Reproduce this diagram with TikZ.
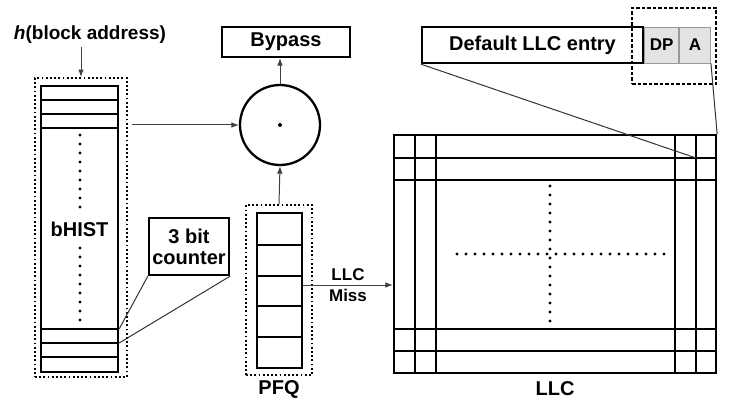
\documentclass[tikz,border=0pt]{standalone}
\usepackage{fontspec}
\setmainfont{Liberation Sans}
\usetikzlibrary{arrows.meta,positioning}

\begin{document}
\begin{tikzpicture}[x=1pt, y=-1pt, >=Latex,
        font=\fontsize{20}{21}\selectfont\bfseries,
        box/.style={draw, line width=2.3pt, inner sep=0pt},
        dotbox/.style={draw, line width=1.9pt, dash pattern=on 1.8pt off 2.4pt,
        inner sep=0pt},
        dashbox/.style={draw, line width=1.7pt, dash pattern=on 3.5pt off 2pt,
        inner sep=0pt},
        cell/.style={draw=gray!80, fill=gray!22, line width=0.9pt, inner sep=0pt,
        minimum height=36pt, font=\fontsize{17}{18}\selectfont\bfseries},
        rowline/.style={line width=2.1pt},
        thin/.style={line width=1pt, black!80},
        arrow/.style={->, line width=1pt, black!75},
        dots/.style={line width=3.4pt, line cap=round, dash pattern=on 0pt off 9pt} ]

    \useasboundingbox (0,0) rectangle (729,409);

    % bHIST table
    \node[dotbox, minimum width=92pt, minimum height=299pt] (bhistout) at (81,227.5) {};
    \node[box, minimum width=77pt, minimum height=286pt] (bhist) at (79.5,229) {bHIST};
    \foreach \y in {100,114,128,329,343,357}
        \draw[rowline] (bhist.west |- 0,\y) -- (bhist.east |- 0,\y);
    \draw[dots] (80,135) -- (80,209);
    \draw[dots] (80,248) -- (80,322);
    \node[font=\fontsize{19}{20}\selectfont\bfseries] (hlabel) at (90,35)
        {\textit{h}(block address)};
    \draw[arrow] (bhistout.north |- hlabel.south) -- (bhistout.north);

    \node[box, minimum width=80pt, minimum height=57pt, align=center] (counter)
        at (189,246.5) {3 bit\\counter};
    \draw[thin] (counter.south west) -- (bhist.east |- 0,329);
    \draw[thin] (counter.south east) -- (bhist.east |- 0,343);

    % combine and bypass
    \node[draw, circle, line width=2.3pt, minimum size=80pt] (comb) at (280,125) {};
    \fill (comb.center) circle (2pt);
    \node[box, minimum width=128pt, minimum height=30pt] (bypass) at (286,42) {Bypass};
    \draw[arrow] (bhistout.east |- comb.west) ++(4,0) -- (comb.west);
    \draw[arrow] (comb.north) -- (comb.north |- bypass.south);

    % PFQ
    \node[dotbox, minimum width=66pt, minimum height=170pt] (pfqout) at (279,290) {};
    \node[box, minimum width=45pt, minimum height=155pt] (pfq) at (279.5,290.5) {};
    \foreach \y in {245,276,306,337}
        \draw[rowline] (pfq.west |- 0,\y) -- (pfq.east |- 0,\y);
    \node[below=1pt of pfqout] (pfqlabel) {PFQ};
    \draw[arrow] (pfqout.north) -- (comb.south);

    % LLC array
    \node[box, minimum width=322pt, minimum height=238pt] (llc) at (555,254) {};
    \foreach \x in {415,436,675,696}
        \draw[rowline] (llc.north -| \x,0) -- (llc.south -| \x,0);
    \foreach \y in {158,180,329,351}
        \draw[rowline] (llc.west |- 0,\y) -- (llc.east |- 0,\y);
    \draw[dots] (550,186) -- (550,322);
    \draw[dots] (457,254) -- (666,254);
    \node[below=4pt of llc] (llclabel) {LLC};
    \draw[arrow] (pfq.east |- 0,285) -- node[align=center, text=black,
        font=\fontsize{17}{21}\selectfont\bfseries] {LLC\\Miss} (llc.west |- 0,285);

    % entry layout
    \node[box, minimum width=221pt, minimum height=36pt] (entry) at (532.5,45)
        {Default LLC entry};
    \node[cell, minimum width=34pt, anchor=west] (dp) at (entry.east) {DP};
    \node[cell, minimum width=31pt, anchor=west] (abit) at (dp.east) {A};
    \node[dashbox, minimum width=84pt, minimum height=76pt] (meta) at (674,46) {};
    \draw[thin] (entry.south west) -- (696,158);
    \draw[thin] (abit.south east) -- (llc.north east);

\end{tikzpicture}
\end{document}
